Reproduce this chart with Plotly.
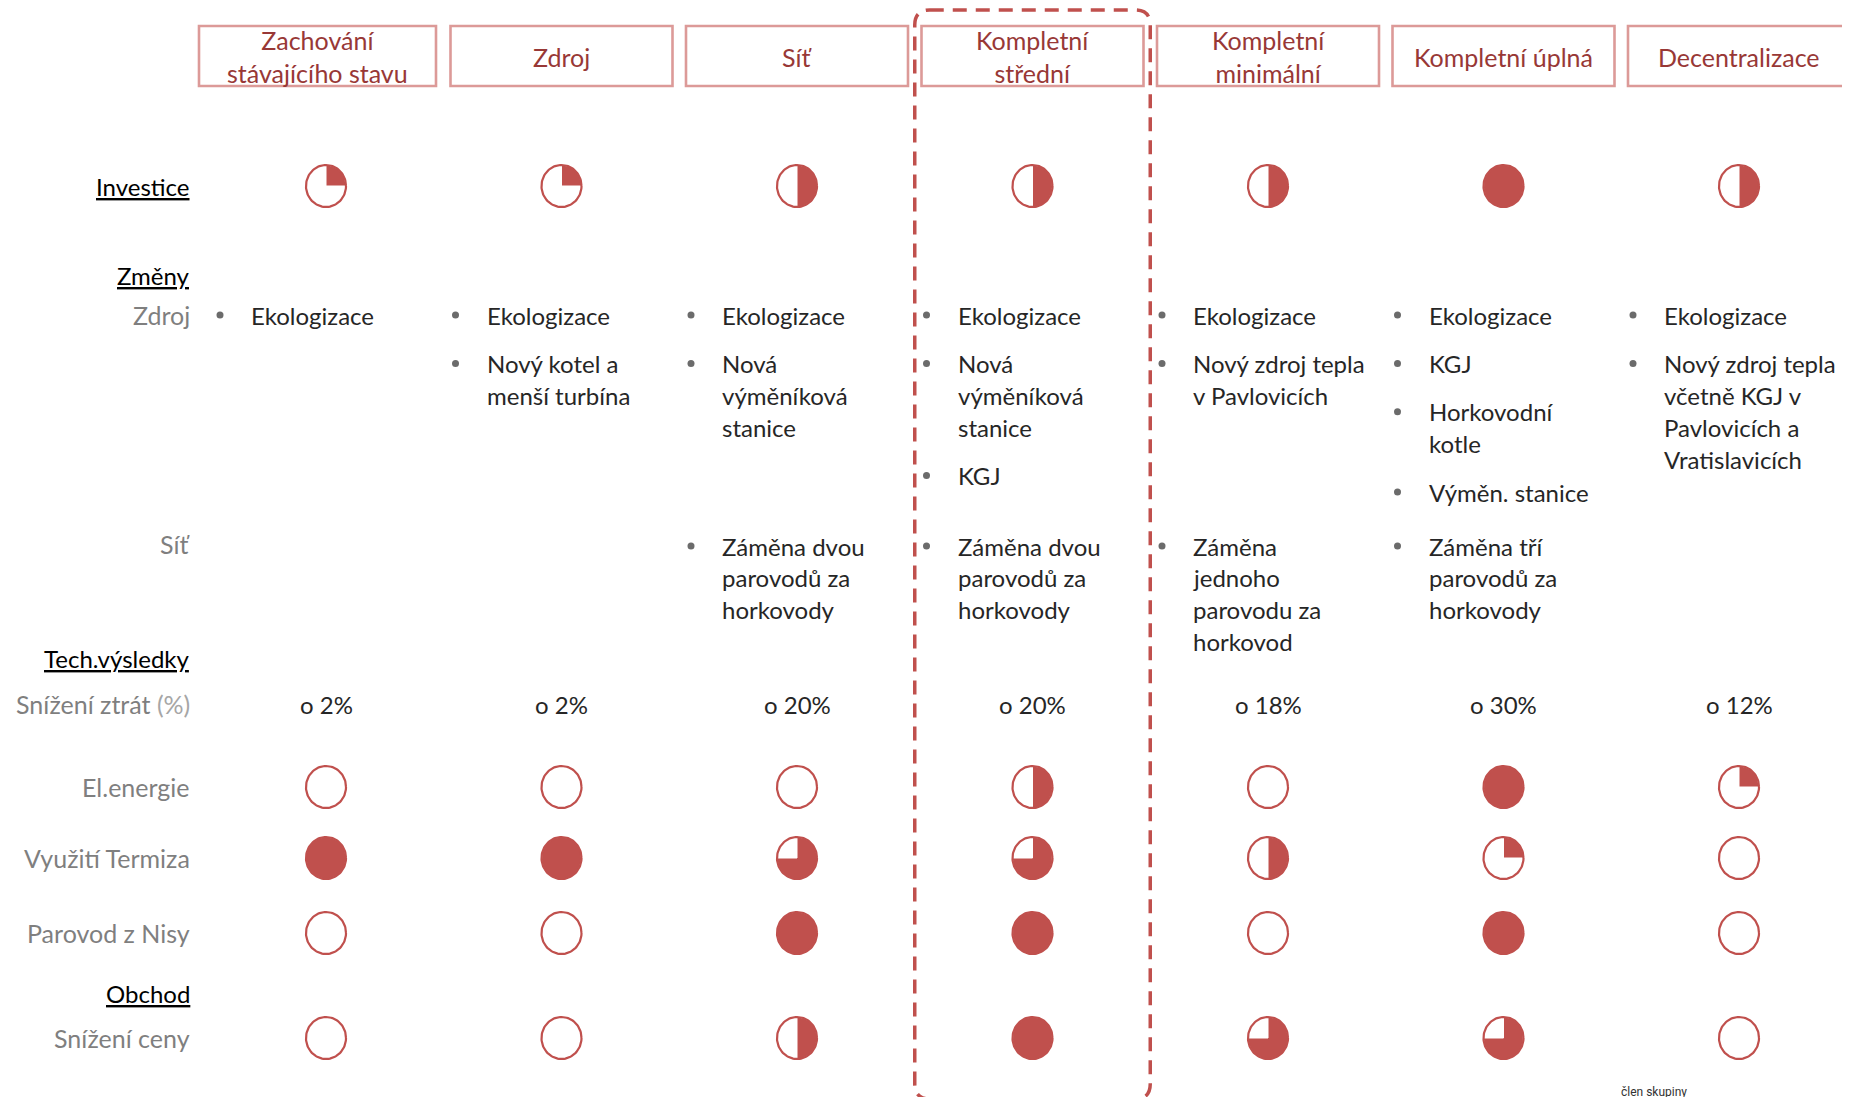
import numpy as np
import plotly.graph_objects as go

# ---------------- data ----------------
scenarios = ["Zachování<br>stávajícího stavu", "Zdroj", "Síť", "Kompletní<br>střední",
             "Kompletní<br>minimální", "Kompletní úplná", "Decentralizace"]
highlighted = "Kompletní<br>střední"

investice = [0.25, 0.25, 0.5, 0.5, 0.5, 1.0, 0.5]
el_energie = [0.0, 0.0, 0.0, 0.5, 0.0, 1.0, 0.25]
vyuziti_termiza = [1.0, 1.0, 0.75, 0.75, 0.5, 0.25, 0.0]
parovod_z_nisy = [0.0, 0.0, 1.0, 1.0, 0.0, 1.0, 0.0]
snizeni_ceny = [0.0, 0.0, 0.5, 1.0, 0.75, 0.75, 0.0]
snizeni_ztrat_pct = [2, 2, 20, 20, 18, 30, 12]

zmeny_zdroj = [
    ["Ekologizace"],
    ["Ekologizace", "Nový kotel a\nmenší turbína"],
    ["Ekologizace", "Nová\nvýměníková\nstanice"],
    ["Ekologizace", "Nová\nvýměníková\nstanice", "KGJ"],
    ["Ekologizace", "Nový zdroj tepla\nv Pavlovicích"],
    ["Ekologizace", "KGJ", "Horkovodní\nkotle", "Výměn. stanice"],
    ["Ekologizace", "Nový zdroj tepla\nvčetně KGJ v\nPavlovicích a\nVratislavicích"],
]
zmeny_sit = [
    [],
    [],
    ["Záměna dvou\nparovodů za\nhorkovody"],
    ["Záměna dvou\nparovodů za\nhorkovody"],
    ["Záměna\njednoho\nparovodu za\nhorkovod"],
    ["Záměna tří\nparovodů za\nhorkovody"],
    [],
]

section_labels = ["Investice", "Změny", "Tech.výsledky", "Obchod"]
sub_labels = ["Zdroj", "Síť", "Snížení ztrát <span style='color:#a6a6a6'>(%)</span>",
              "El.energie", "Využití Termiza", "Parovod z Nisy", "Snížení ceny"]
footer_note = "člen skupiny"

# ---------------- layout / style ----------------
W, H = 1850, 1097
OFF_X, OFF_Y = 6, 8                       # page body margin compensation (px)
COL0_PX, COL_STEP = 324.0, 235.5          # column 0 centre and spacing (screen px)
RED = "#c0504d"
HEADER_TXT = "#983836"
HEADER_BOX = "#dc9a98"
GRAY = "#7f7f7f"
TXT = "#262626"
FONT = "Lato"

ROW_Y = {"Investice": 186, "Změny": 275, "Zdroj": 315, "Síť": 544,
         "Tech.výsledky": 658, "Snížení ztrát": 704, "El.energie": 787,
         "Využití Termiza": 858, "Parovod z Nisy": 933, "Obchod": 993,
         "Snížení ceny": 1038}
sub_keys = ["Zdroj", "Síť", "Snížení ztrát", "El.energie", "Využití Termiza",
            "Parovod z Nisy", "Snížení ceny"]

LABEL_RIGHT = (190 - OFF_X) / W
LINE = 31.9
ITEM_GAP = 16.5
TEXT_DX = -77 / COL_STEP
BULLET_DX = -106 / COL_STEP
RX = 20 / COL_STEP
RY = 21

fig = go.Figure()

# ---------------- Harvey balls ----------------
ball_rows = [("Investice", investice), ("El.energie", el_energie),
             ("Využití Termiza", vyuziti_termiza), ("Parovod z Nisy", parovod_z_nisy),
             ("Snížení ceny", snizeni_ceny)]
wx, wy, ox, oy = [], [], [], []
full_t = np.linspace(0, 2 * np.pi, 97)
for name, vals in ball_rows:
    cy = ROW_Y[name]
    for i, f in enumerate(vals):
        ex = i + RX * np.cos(full_t)
        ey = cy - RY * np.sin(full_t)
        ox += list(ex) + [None]
        oy += list(ey) + [None]
        if f >= 1:
            wx += list(ex) + [None]
            wy += list(ey) + [None]
        elif f > 0:
            t = np.linspace(np.pi / 2, np.pi / 2 - 2 * np.pi * f, 60)
            wx += [i] + list(i + RX * np.cos(t)) + [i, None]
            wy += [cy] + list(cy - RY * np.sin(t)) + [cy, None]

fig.add_trace(go.Scatter(x=wx, y=wy, mode="lines", fill="toself", fillcolor=RED,
                         line=dict(color="white", width=1), hoverinfo="skip"))
fig.add_trace(go.Scatter(x=ox, y=oy, mode="lines", line=dict(color=RED, width=2.2),
                         hoverinfo="skip"))

# ---------------- bullets ----------------
annotations = []
bx, by = [], []


def place_items(items, col, y_start):
    y = y_start
    for it in items:
        lines = it.split("\n")
        bx.append(col + BULLET_DX)
        by.append(y)
        for k, ln in enumerate(lines):
            annotations.append(dict(x=col + TEXT_DX, y=y + k * LINE, xref="x", yref="y",
                                    text=ln, showarrow=False, xanchor="left", yanchor="middle",
                                    font=dict(family=FONT, size=24, color=TXT)))
        y += len(lines) * LINE + ITEM_GAP


for i in range(len(scenarios)):
    place_items(zmeny_zdroj[i], i, ROW_Y["Zdroj"])
    place_items(zmeny_sit[i], i, ROW_Y["Síť"] + 2)

fig.add_trace(go.Scatter(x=bx, y=by, mode="markers",
                         marker=dict(color="#6b6b6b", size=7), hoverinfo="skip"))

# ---------------- percentage row ----------------
for i, v in enumerate(snizeni_ztrat_pct):
    annotations.append(dict(x=i, y=ROW_Y["Snížení ztrát"], xref="x", yref="y",
                            text=f"o {v}%", showarrow=False, xanchor="center",
                            yanchor="middle", font=dict(family=FONT, size=24, color=TXT)))

# ---------------- row labels ----------------
for lab in section_labels:
    annotations.append(dict(x=LABEL_RIGHT, y=ROW_Y[lab], xref="paper", yref="y", text=lab,
                            showarrow=False, xanchor="right", yanchor="middle",
                            font=dict(family=FONT, size=24, color="#000000",
                                      lineposition="under")))
for key, lab in zip(sub_keys, sub_labels):
    annotations.append(dict(x=LABEL_RIGHT, y=ROW_Y[key], xref="paper", yref="y", text=lab,
                            showarrow=False, xanchor="right", yanchor="middle",
                            font=dict(family=FONT, size=25, color=GRAY)))

# ---------------- header boxes ----------------
shapes = []
HEADER_Y0, HEADER_Y1 = 26, 86
for i, s in enumerate(scenarios):
    left = (-127 if i == 0 else -111) / COL_STEP
    right = (110 if i == 0 else 111) / COL_STEP
    shapes.append(dict(type="rect", xref="x", yref="y", x0=i + left, x1=i + right,
                       y0=HEADER_Y0, y1=HEADER_Y1, line=dict(color=HEADER_BOX, width=2.6),
                       fillcolor="rgba(0,0,0,0)", layer="below"))
    annotations.append(dict(x=i + (left + right) / 2, y=(HEADER_Y0 + HEADER_Y1) / 2 + 0.5,
                            xref="x", yref="y", text=s, showarrow=False,
                            xanchor="center", yanchor="middle",
                            font=dict(family=FONT, size=25, color=HEADER_TXT)))

# ---------------- highlight (dashed rounded box) ----------------
hc = scenarios.index(highlighted)
x0, x1, y0, y1 = hc - 0.5, hc + 0.5, 10, 1099
r = 15
rx = r / COL_STEP
path = (f"M {x0 + rx},{y0} L {x1 - rx},{y0} Q {x1},{y0} {x1},{y0 + r} "
        f"L {x1},{y1 - r} Q {x1},{y1} {x1 - rx},{y1} L {x0 + rx},{y1} "
        f"Q {x0},{y1} {x0},{y1 - r} L {x0},{y0 + r} Q {x0},{y0} {x0 + rx},{y0} Z")
shapes.append(dict(type="path", xref="x", yref="y", path=path,
                   line=dict(color=RED, width=3.5, dash="14px,9px")))

annotations.append(dict(x=(1652 - OFF_X) / W, y=1092, xref="paper", yref="y", text=footer_note,
                        showarrow=False, xanchor="center", yanchor="middle",
                        font=dict(family="Roboto", size=12, color="#333333")))

fig.update_layout(
    width=W, height=H, margin=dict(l=0, r=0, t=0, b=0),
    paper_bgcolor="white", plot_bgcolor="white", showlegend=False,
    xaxis=dict(range=[-(COL0_PX - OFF_X) / COL_STEP, (W - (COL0_PX - OFF_X)) / COL_STEP],
               visible=False, fixedrange=True),
    yaxis=dict(range=[H + OFF_Y, OFF_Y], visible=False, fixedrange=True),
    shapes=shapes, annotations=annotations,
)

fig.write_html("out.html")
